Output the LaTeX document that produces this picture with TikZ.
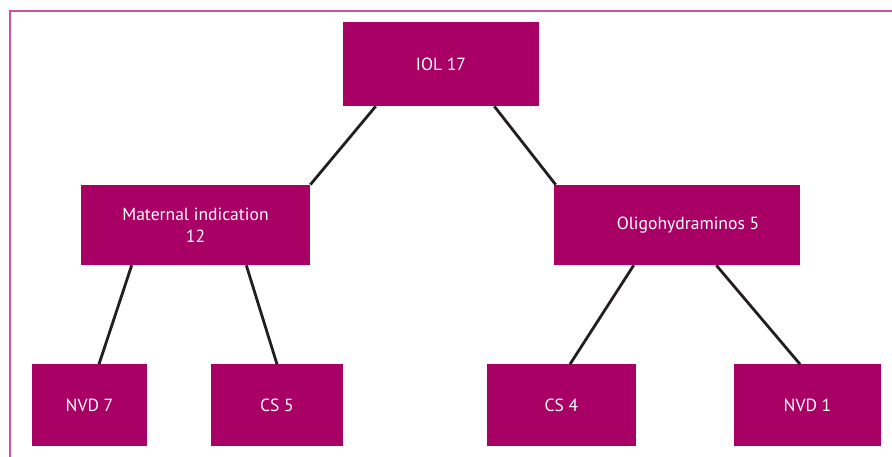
\documentclass[tikz,border=0pt]{standalone}
\usepackage{fontspec}
\setmainfont{PT Sans}
\usepackage{xcolor}
\usepackage{tikz}
\usetikzlibrary{positioning,calc}

\definecolor{boxfill}{RGB}{168,0,100}
\definecolor{framepink}{RGB}{208,80,160}
\definecolor{linedark}{RGB}{35,31,32}

\begin{document}
\begin{tikzpicture}[x=0.025cm, y=-0.025cm]
    \tikzset{
        box/.style={fill=boxfill, text=white, minimum height=2.0cm, align=center, inner sep=0pt,
            font=\fontsize{12.5}{15.6}\selectfont},
        link/.style={draw=linedark, line width=2pt},
        border/.style={draw=framepink, line width=1.1pt}
    }

    \useasboundingbox (0,0) rectangle (892,457);
    \draw[border] (10,457) |- (892,11);

    \node[box, minimum width=4.9cm, minimum height=2.1cm] (iol) at (441,64) {IOL 17};
    \node[box, minimum width=5.725cm] (maternal) at (195.5,225) {Maternal indication\\12};
    \node[box, minimum width=6.15cm] (oligo) at (677,225) {\hspace*{0.55cm}Oligohydraminos 5};

    \node[box, minimum width=2.875cm, minimum height=2.025cm] (nvdseven) at (89.5,405) {NVD 7};
    \node[box, minimum width=3.3cm, minimum height=2.025cm] (csfive) at (277,405) {CS 5};
    \node[box, minimum width=3.725cm, minimum height=2.025cm] (csfour) at (561.5,405) {CS 4};
    \node[box, minimum width=3.675cm, minimum height=2.025cm] (nvdone) at (807.5,405) {NVD 1};

    \draw[link] ($(iol.south west)+(33,0)$) -- (maternal.north east);
    \draw[link] ($(iol.south east)+(-45,0)$) -- ($(oligo.north west)+(2,0)$);

    \draw[link] ($(maternal.south west)+(51,0)$) -- ($(nvdseven.north)+(9.5,0)$);
    \draw[link] ($(maternal.south east)+(-64,0)$) -- (csfive.north);

    \draw[link] ($(oligo.south west)+(80,0)$) -- ($(csfour.north)+(8.5,0)$);
    \draw[link] ($(oligo.south east)+(-84,0)$) -- ($(nvdone.north)+(-7.5,0)$);
\end{tikzpicture}
\end{document}
